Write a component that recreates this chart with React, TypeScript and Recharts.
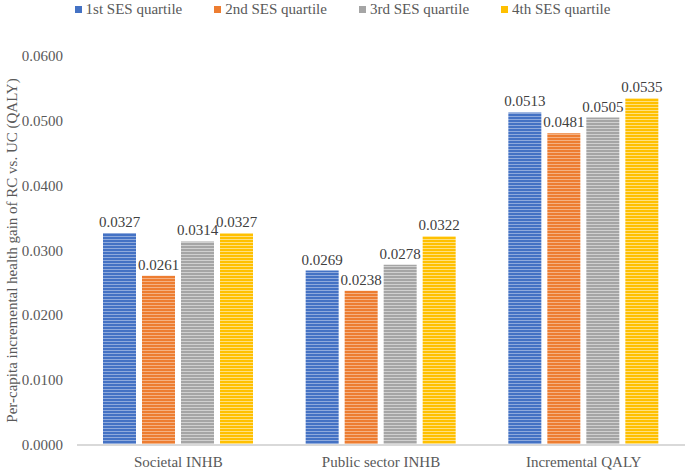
import React from 'react';
import { BarChart, Bar, XAxis, YAxis, Legend, LabelList } from 'recharts';

const categories = ['Societal INHB', 'Public sector INHB', 'Incremental QALY'];
const q1 = [0.0327, 0.0269, 0.0513];
const q2 = [0.0261, 0.0238, 0.0481];
const q3 = [0.0314, 0.0278, 0.0505];
const q4 = [0.0327, 0.0322, 0.0535];
const yTicks = [0, 0.01, 0.02, 0.03, 0.04, 0.05, 0.06];

const seriesList = [
  { key: 'q1', name: '1st SES quartile', color: '#4472C4', light: '#8FAADC' },
  { key: 'q2', name: '2nd SES quartile', color: '#ED7D31', light: '#F4B183' },
  { key: 'q3', name: '3rd SES quartile', color: '#A5A5A5', light: '#D0D0D0' },
  { key: 'q4', name: '4th SES quartile', color: '#FFC000', light: '#FFE07F' },
];

const data = categories.map((name, i) => ({
  name,
  q1: q1[i],
  q2: q2[i],
  q3: q3[i],
  q4: q4[i],
}));

const FONT = "'Liberation Serif', 'Times New Roman', serif";

const renderLegend = () => (
  <div
    style={{
      display: 'flex',
      justifyContent: 'center',
      gap: 32,
      fontFamily: FONT,
      fontSize: 15,
      color: '#595959',
      lineHeight: '18px',
    }}
  >
    {seriesList.map((s) => (
      <div key={s.key} style={{ display: 'flex', alignItems: 'center' }}>
        <span style={{ width: 7, height: 7, background: s.color, marginRight: 4, display: 'inline-block' }} />
        <span>{s.name}</span>
      </div>
    ))}
  </div>
);

// plain svg ticks so the serif font is surely used
const XTick = ({ x, y, payload }: any) => (
  <text x={x} y={y + 22} textAnchor="middle" fill="#595959" fontSize={15} fontFamily={FONT}>
    {payload.value}
  </text>
);

const YTick = ({ x, y, payload }: any) => (
  <text x={x} y={y + 5} textAnchor="end" fill="#595959" fontSize={15} fontFamily={FONT}>
    {Number(payload.value).toFixed(4)}
  </text>
);

export default function App() {
  return (
    <div
      style={{
        position: 'absolute',
        left: 0,
        top: 0,
        width: 685,
        height: 473,
        background: '#fff',
        fontFamily: FONT,
      }}
    >
      {/* stripe patterns for the bars */}
      <svg width={0} height={0} style={{ position: 'absolute' }}>
        <defs>
          {seriesList.map((s) => (
            <pattern key={s.key} id={`stripe-${s.key}`} patternUnits="userSpaceOnUse" width={4} height={3}>
              <rect x={0} y={0} width={4} height={3} fill={s.color} />
              <rect x={0} y={2} width={4} height={1} fill={s.light} />
            </pattern>
          ))}
        </defs>
      </svg>
      <BarChart
        width={685}
        height={473}
        data={data}
        margin={{ top: 38, right: 0, bottom: 0, left: 0 }}
        barSize={33}
        barGap={6}
        style={{ fontFamily: FONT }}
      >
        <Legend verticalAlign="top" align="center" content={renderLegend} wrapperStyle={{ top: 0, left: 0, width: 685 }} />
        <XAxis
          dataKey="name"
          height={28}
          tickSize={0}
          tickMargin={0}
          axisLine={{ stroke: '#D9D9D9', strokeWidth: 2 }}
          tick={<XTick />}
        />
        <YAxis
          width={77}
          domain={[0, 0.06]}
          ticks={yTicks}
          axisLine={false}
          tickLine={false}
          tickSize={0}
          tickMargin={14}
          tick={<YTick />}
          label={{
            value: 'Per-capita incremental health gain of RC vs. UC (QALY)',
            angle: -90,
            position: 'insideLeft',
            offset: 12,
            style: { textAnchor: 'middle', fill: '#595959', fontSize: 15, fontFamily: FONT },
          }}
        />
        {seriesList.map((s) => (
          <Bar key={s.key} dataKey={s.key} name={s.name} fill={`url(#stripe-${s.key})`} isAnimationActive={false}>
            <LabelList
              dataKey={s.key}
              position="top"
              offset={6}
              formatter={(v: number) => v.toFixed(4)}
              style={{ fill: '#404040', fontSize: 15, fontFamily: FONT }}
            />
          </Bar>
        ))}
      </BarChart>
    </div>
  );
}
